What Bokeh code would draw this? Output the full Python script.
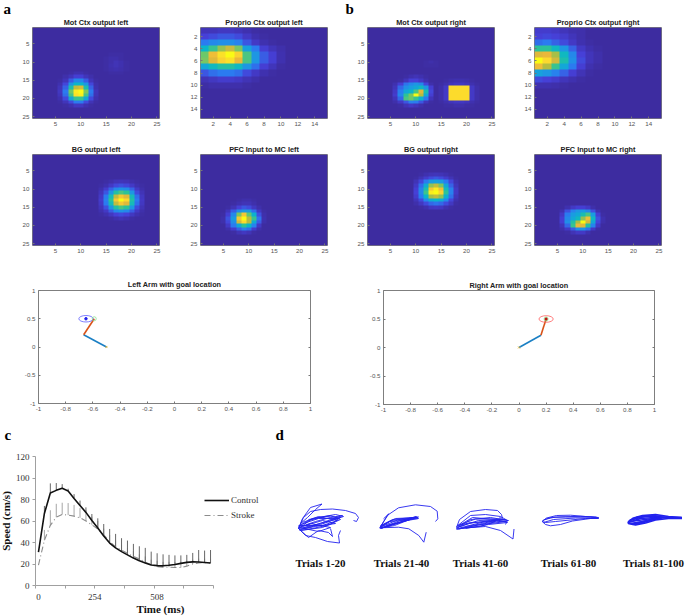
import numpy as np
from bokeh.core.properties import value
from bokeh.embed import file_html
from bokeh.layouts import column
from bokeh.models import (FixedTicker, Legend, LegendItem, LinearAxis, LinearColorMapper,
                          Range1d)
from bokeh.plotting import figure
from bokeh.resources import INLINE

# ---------- heat map values (percent of colour scale) ----------
# each entry: first row, first column, block of values (everything else is 0)
MOT_LEFT = [
    (8, 15, [[0, 1, 1, 1, 0], [1, 2, 2, 1, 0], [1, 2, 4, 3, 1], [1, 3, 4, 3, 1], [1, 2, 3, 2, 1], [0, 1, 1, 1, 0]]),
    (13, 6, [[0, 0, 1, 3, 3, 1, 0, 0],
             [0, 2, 5, 9, 9, 5, 2, 0],
             [1, 5, 15, 24, 24, 15, 5, 1],
             [3, 11, 28, 40, 40, 28, 11, 2],
             [5, 16, 46, 72, 76, 46, 16, 3],
             [6, 20, 60, 95, 100, 62, 20, 5],
             [5, 18, 54, 92, 96, 54, 18, 4],
             [3, 12, 34, 52, 52, 34, 12, 3],
             [1, 5, 12, 20, 20, 12, 4, 1],
             [0, 1, 3, 6, 6, 3, 1, 0]]),
]
PROPRIO_LEFT = [
    (1, 1, [[5, 5, 6, 6, 5, 3, 1, 0, 0, 0],
            [10, 12, 14, 14, 12, 7, 3, 1, 0, 0],
            [20, 24, 26, 26, 22, 14, 7, 3, 1, 0],
            [40, 52, 66, 74, 62, 32, 20, 9, 5, 2],
            [60, 82, 92, 100, 88, 55, 28, 15, 9, 3],
            [62, 78, 88, 92, 80, 55, 28, 15, 9, 3],
            [34, 42, 48, 48, 42, 28, 18, 9, 5, 1],
            [14, 18, 20, 20, 18, 12, 7, 3, 1, 0],
            [4, 6, 8, 8, 7, 4, 2, 0, 0, 0],
            [1, 2, 2, 2, 2, 1, 0, 0, 0, 0]]),
]
BG_LEFT = [
    (8, 14, [[0, 1, 2, 4, 5, 4, 2, 1, 0],
             [1, 3, 7, 11, 13, 11, 7, 3, 1],
             [3, 8, 16, 24, 27, 25, 16, 7, 2],
             [5, 14, 28, 48, 55, 50, 28, 12, 4],
             [7, 20, 44, 72, 85, 78, 44, 18, 6],
             [8, 22, 50, 85, 100, 90, 48, 20, 7],
             [7, 20, 44, 72, 85, 78, 44, 18, 6],
             [5, 13, 28, 48, 55, 50, 28, 12, 4],
             [3, 7, 15, 24, 27, 24, 15, 7, 2],
             [1, 3, 6, 10, 12, 10, 6, 3, 1],
             [0, 0, 1, 3, 4, 3, 1, 0, 0]]),
]
PFC_LEFT = [
    (13, 5, [[0, 0, 0, 1, 2, 2, 1, 0, 0],
             [0, 0, 1, 3, 4, 4, 2, 0, 0],
             [0, 1, 4, 10, 14, 12, 6, 2, 0],
             [0, 5, 15, 25, 30, 30, 18, 6, 1],
             [1, 9, 24, 62, 85, 58, 38, 13, 2],
             [2, 13, 30, 85, 100, 70, 52, 19, 3],
             [2, 11, 26, 75, 90, 70, 36, 15, 2],
             [0, 7, 20, 35, 50, 40, 22, 7, 0],
             [0, 2, 8, 16, 22, 18, 8, 2, 0],
             [0, 0, 1, 4, 6, 4, 1, 0, 0]]),
]
MOT_RIGHT = [
    (10, 11, [[0, 1, 2, 1], [0, 1, 1, 1]]),
    (14, 6, [[0, 0, 1, 3, 4, 3, 1, 0],
             [0, 1, 5, 10, 10, 7, 3, 0],
             [3, 9, 19, 24, 28, 24, 11, 2],
             [5, 17, 26, 30, 34, 42, 28, 9],
             [7, 21, 34, 40, 55, 78, 45, 11],
             [8, 24, 50, 62, 100, 70, 35, 9],
             [5, 17, 55, 60, 52, 38, 20, 5],
             [2, 7, 14, 22, 20, 14, 5, 1],
             [0, 1, 4, 7, 5, 2, 0, 0]]),
    (15, 15, [[0, 1, 2, 3, 3, 2, 1, 0],
              [1, 3, 5, 6, 6, 5, 3, 1],
              [2, 7, 91, 91, 91, 91, 7, 2],
              [2, 7, 91, 91, 91, 91, 7, 2],
              [2, 7, 91, 91, 91, 91, 7, 2],
              [2, 7, 91, 91, 91, 91, 7, 2],
              [1, 3, 5, 6, 6, 5, 3, 1],
              [0, 1, 1, 2, 2, 1, 1, 0]]),
]
PROPRIO_RIGHT = [
    (1, 1, [[8, 8, 7, 5, 3, 2, 0, 0],
            [10, 11, 10, 8, 5, 2, 0, 0],
            [18, 20, 16, 12, 7, 3, 1, 0],
            [50, 50, 42, 28, 16, 7, 3, 1],
            [78, 80, 68, 42, 24, 10, 5, 2],
            [100, 90, 75, 46, 26, 12, 5, 2],
            [82, 70, 52, 34, 20, 9, 3, 1],
            [32, 28, 22, 16, 9, 4, 1, 0],
            [12, 10, 8, 5, 3, 1, 0, 0],
            [3, 3, 2, 1, 0, 0, 0, 0]]),
]
BG_RIGHT = [
    (6, 10, [[0, 1, 3, 4, 5, 4, 3, 1, 0],
             [1, 4, 8, 12, 14, 12, 8, 4, 1],
             [4, 11, 20, 30, 32, 30, 20, 11, 3],
             [7, 18, 36, 65, 72, 62, 34, 16, 5],
             [9, 23, 46, 85, 95, 82, 44, 22, 7],
             [10, 24, 53, 95, 100, 88, 50, 22, 7],
             [8, 20, 40, 68, 72, 65, 38, 18, 5],
             [5, 12, 24, 36, 40, 36, 24, 11, 3],
             [2, 6, 12, 17, 19, 17, 12, 6, 1],
             [0, 1, 3, 6, 7, 6, 3, 1, 0]]),
]
PFC_RIGHT = [
    (15, 6, [[0, 3, 7, 9, 9, 7, 2, 0, 0],
             [3, 13, 22, 28, 30, 24, 13, 3, 0],
             [7, 20, 30, 34, 45, 55, 30, 9, 1],
             [9, 24, 34, 42, 65, 82, 42, 13, 3],
             [9, 26, 48, 68, 100, 75, 35, 11, 2],
             [5, 17, 52, 80, 78, 48, 23, 7, 0],
             [2, 7, 15, 26, 28, 19, 7, 1, 0],
             [0, 1, 4, 7, 7, 3, 0, 0, 0]]),
]
TICKS_25 = [5, 10, 15, 20, 25]
TICKS_15 = [2, 4, 6, 8, 10, 12, 14]

# ---------- arm panels ----------
ARM_TICKS_X = [-1, -0.8, -0.6, -0.4, -0.2, 0, 0.2, 0.4, 0.6, 0.8, 1]
ARM_LABELS_X = ["-1", "-0.8", "-0.6", "-0.4", "-0.2", "0", "0.2", "0.4", "0.6", "0.8", "1"]
ARM_TICKS_Y = [-1, -0.5, 0, 0.5, 1]
ARM_LABELS_Y = ["-1", "-0.5", "0", "0.5", "1"]
LEFT_UPPER = ([-0.50, -0.668], [0.0, 0.218])
LEFT_FORE = ([-0.668, -0.59], [0.218, 0.50])
LEFT_GOAL = (-0.651, 0.50)
RIGHT_UPPER = ([0.0, 0.162], [0.0, 0.216])
RIGHT_FORE = ([0.162, 0.20], [0.216, 0.50])
RIGHT_GOAL = (0.20, 0.50)

# ---------- speed profile ----------
SAMPLE_MS = 25.4
SPEED_CONTROL = [31, 67, 86, 88.5, 90.5, 88, 81, 74.5, 68, 60.5, 53.5, 46, 39.5, 35, 31.5, 28.5, 25.5, 23,
                 21, 19, 18.5, 18.3, 18.8, 19.5, 20.6, 21.5, 22, 21.8, 21.4, 21]
SPEED_STROKE = [19, 42, 56, 63.5, 66, 65.5, 64.5, 63, 60, 56.5, 52.5, 47, 41, 36, 33, 30, 27, 24.7,
                21.6, 19.5, 17.6, 17, 17, 16.7, 16.7, 18, 20, 21, 21.2, 21]
TOP_CONTROL = [31, 74, 95, 95.3, 94.3, 90, 85, 79, 72.7, 66.5, 62.5, 57.2, 52.6, 48, 44, 41.8, 38.7, 36.5,
               35, 31.5, 30, 29, 28.5, 28, 28, 28.5, 30.3, 33, 32.5, 33]
TOP_STROKE = [19, 51.7, 70, 76, 77, 76.7, 75, 72, 70, 64, 60, 53, 47, 42, 38, 35, 32, 29,
              27, 24, 23, 22, 22, 22, 22, 23, 24, 25, 25, 25]
SPEED_TICKS = [0, 20, 40, 60, 80, 100, 120]
TIME_LABELS = {0: "0", 241: "254", 507: "508"}

# ---------- reach trajectories (page pixels) ----------
TRIALS_1_20 = [
    [(298, 528), (303, 517), (310, 511), (320, 509), (332, 508.5), (345, 510), (355, 513), (358, 517), (356, 521), (353, 520)],
    [(298, 528), (302, 518), (310, 507), (321.5, 503.5), (315, 509), (307, 517), (300, 523)],
    [(298, 528), (305, 535), (315, 537), (327, 541), (339, 542.5), (338, 535), (340, 530)],
    [(298, 528), (308, 537), (318, 530), (328, 532), (332, 536), (330, 528)],
    [(298, 527), (315, 521), (330, 517), (342, 515), (325, 521), (310, 526), (298, 528)],
    [(298, 528), (312, 518), (335, 514), (343, 516), (320, 524), (300, 529)],
    [(299, 529), (315, 526), (335, 523), (322, 520), (305, 525)],
    [(298, 526), (308, 520), (325, 516), (340, 517), (330, 524), (312, 528), (299, 530)],
    [(299, 527), (318, 531), (330, 527), (310, 523), (300, 527)],
    [(300, 524), (318, 518), (338, 518), (320, 523), (303, 527)],
    [(298, 525), (322, 525), (337, 520), (318, 516), (302, 522)],
    [(300, 530), (322, 527), (340, 519), (330, 515), (308, 519)],
]
TRIALS_21_40 = [
    [(379.3, 527.7), (386.7, 515), (398, 507.3), (415, 504.3), (430, 506), (436.7, 510.7), (437.3, 518.3), (435, 521)],
    [(379.3, 527), (388.3, 513.3), (383, 518.3)],
    [(379.3, 527.3), (398, 526.7), (408.3, 528.3), (418.3, 535), (423.3, 541.7), (425.7, 531.7)],
    [(380, 527), (392, 519), (418, 516.5), (398, 522.5), (380, 528)],
    [(380, 526), (395, 518), (417, 517), (410, 519), (392, 524), (380, 528)],
    [(381, 527), (400, 520), (416, 516), (402, 521), (385, 526)],
    [(380, 525), (389, 521), (408, 519.5), (394, 525), (380, 527.5)],
    [(380, 526.5), (397, 519.5), (418, 518), (404, 520.5), (386, 525)],
    [(381, 525), (390, 520), (412, 517.5), (396, 523), (381, 527.5)],
]
TRIALS_41_60 = [
    [(456, 527), (459, 519), (470, 511), (485, 509), (497, 510), (501, 514), (502, 518), (499, 517)],
    [(456, 528), (470, 527), (485, 526), (500, 530), (512.5, 538.5), (513.5, 528.5)],
    [(456, 526), (470, 515), (485, 514), (500, 516), (507, 520), (505, 524)],
    [(456, 528), (470, 519), (490, 517), (508, 520), (490, 522), (470, 526), (456, 529)],
    [(457, 526), (472, 517), (495, 519), (507, 522), (488, 524), (465, 528)],
    [(457, 527), (478, 520), (505, 519), (485, 521), (465, 526)],
    [(458, 525), (470, 522), (495, 521), (480, 526), (458, 528)],
    [(457, 525), (475, 518.5), (500, 518.5), (482, 523), (460, 527)],
    [(456, 527), (468, 523), (490, 520), (506, 521), (478, 524.5), (458, 528.5)],
]
TRIALS_61_80 = [
    [(541.7, 521), (546, 517.5), (556, 515), (570, 514.7), (585, 516), (598.3, 517)],
    [(598.3, 518), (585, 518), (570, 519.5), (555, 521), (545, 522), (541.7, 521)],
    [(541.7, 521), (545, 524), (550, 525.3), (560, 524), (572, 520.5), (590, 518), (598, 517.5)],
    [(542, 520), (550, 517), (565, 516.5), (590, 516.5), (598, 517.5)],
    [(543, 522), (553, 519), (575, 517.5), (597, 517.5)],
    [(544, 519), (555, 516.5), (580, 515.8), (596, 516.5)],
]
TRIALS_81_100 = [
    [(627.5, 521.5), (633, 517.5), (642, 515), (655, 514), (668, 516), (681.5, 517)],
    [(681.5, 518), (668, 518), (655, 519.5), (645, 522.5), (635, 524.3), (628, 523), (627.5, 521.5)],
    [(628, 522), (640, 518), (660, 516.5), (681, 517)],
    [(630, 523.5), (645, 520.5), (662, 517.5), (681, 517.5)],
    [(629, 520), (640, 516.5), (652, 515.5), (668, 517)],
    [(632, 524), (645, 521.5), (655, 518)],
    [(630, 521), (648, 518.5), (660, 517.5)],
    [(628, 523), (640, 522), (650, 519)],
    [(630, 519.5), (644, 516), (656, 515.5)],
    [(634, 522.5), (648, 520), (658, 517)],
    [(636, 516.5), (648, 515.5), (660, 515.5)],
]
TRIAL_GROUPS = [TRIALS_1_20, TRIALS_21_40, TRIALS_41_60, TRIALS_61_80, TRIALS_81_100]
TRIAL_LABELS = ["Trials 1-20", "Trials 21-40", "Trials 41-60", "Trials 61-80", "Trials 81-100"]
TRIAL_LABEL_X = [320, 401, 480, 568, 653]

# ---------- styling ----------
PARULA = ["#3d2ca0", "#4640d8", "#2b7bf0", "#1a9de0", "#0ab6c9", "#2ac29a",
          "#6cc86a", "#b4bd40", "#eab83a", "#fcd82f", "#f9fb15"]
def _ramp(anchors, n=256):
    rgb = np.array([[int(c[i:i + 2], 16) for i in (1, 3, 5)] for c in anchors], float)
    pos = np.linspace(0, 1, len(anchors))
    t = np.linspace(0, 1, n)
    return ["#%02x%02x%02x" % tuple(int(round(np.interp(v, pos, rgb[:, k]))) for k in range(3)) for v in t]
MAPPER = LinearColorMapper(palette=_ramp(PARULA), low=0, high=100)
SANS = "Liberation Sans"
SERIF = "Liberation Serif"
PAD_L, PAD_R, PAD_T, PAD_B = 34, 14, 20, 16


def place(p, left, top):
    p.styles = {"position": "absolute", "left": f"{left}px", "top": f"{top}px"}
    p.frame_align = False
    return p


def matlab_fig(title, left, top, w, h, xr, yr, title_gap=1):
    p = figure(width=w + PAD_L + PAD_R, height=h + PAD_T + PAD_B, frame_width=w, frame_height=h,
               x_range=Range1d(*xr), y_range=Range1d(*yr), output_backend="svg", toolbar_location=None,
               min_border_left=PAD_L, min_border_right=PAD_R, min_border_top=PAD_T, min_border_bottom=PAD_B,
               title=title, background_fill_color="#ffffff", border_fill_color=None)
    p.title.align = "center"
    p.title.text_font = SANS
    p.title.text_font_size = "7.3px"
    p.title.text_font_style = "bold"
    p.title.text_color = "#222222"
    p.title.standoff = title_gap
    p.title.offset = 0
    p.grid.visible = False
    p.outline_line_color = "#7f7f7f"
    p.outline_line_width = 1
    for ax in p.axis:
        ax.axis_line_color = None
        ax.major_tick_line_color = "#777777"
        ax.major_tick_in = 2
        ax.major_tick_out = 0
        ax.minor_tick_line_color = None
        ax.major_label_text_font = SANS
        ax.major_label_text_font_size = "6.2px"
        ax.major_label_text_color = "#555555"
        ax.major_label_standoff = 3
    place(p, left - PAD_L, top - PAD_T)
    return p


def heat(title, blocks, left, top, n, ticks):
    p = matlab_fig(title, left, top, 127, 91, (0.5, n + 0.5), (n + 0.5, 0.5))
    grid = np.zeros((n, n))
    for r0, c0, block in blocks:
        for i, row in enumerate(block):
            for j, v in enumerate(row):
                grid[r0 - 1 + i, c0 - 1 + j] = max(grid[r0 - 1 + i, c0 - 1 + j], v)
    p.image(image=[grid], x=0.5, y=0.5, dw=n, dh=n, color_mapper=MAPPER)
    p.xaxis.ticker = FixedTicker(ticks=ticks)
    p.yaxis.ticker = FixedTicker(ticks=ticks)
    return p


def arm(title, left, top, w, h, upper, fore, goal, goal_color, dot_color, title_gap):
    p = matlab_fig(title, left, top, w, h, (-1, 1), (-1, 1), title_gap)
    p.xaxis.ticker = FixedTicker(ticks=ARM_TICKS_X)
    p.xaxis.major_label_overrides = dict(zip(ARM_TICKS_X, ARM_LABELS_X))
    p.yaxis.ticker = FixedTicker(ticks=ARM_TICKS_Y)
    p.yaxis.major_label_overrides = dict(zip(ARM_TICKS_Y, ARM_LABELS_Y))
    for side, ticks in (("right", ARM_TICKS_Y),):
        extra = LinearAxis(ticker=FixedTicker(ticks=ticks), axis_line_color=None, major_tick_in=2, major_tick_out=0,
                           major_tick_line_color="#777777", minor_tick_line_color=None,
                           major_label_overrides={t: "" for t in ticks}, major_label_standoff=0)
        p.add_layout(extra, side)
    p.line(*upper, line_color="#1a7fc4", line_width=1.6)
    p.line(*fore, line_color="#d95319", line_width=1.6)
    p.ellipse([goal[0]], [goal[1]], width=0.105, height=0.115, fill_color=None, line_color=goal_color, line_width=0.8)
    p.scatter([goal[0]], [goal[1]], marker="circle", size=2.5, fill_color=dot_color, line_color=dot_color)
    p.scatter([fore[0][1]], [fore[1][1]], marker="circle", size=4, fill_color=None, line_color="#7fe07f", line_width=0.7)
    p.scatter([upper[0][0]], [upper[1][0]], marker="x", size=3, line_color="#edb120", line_width=0.7)
    return p


# ---------- page-wide layer: panel letters and trajectories ----------
page = figure(width=685, height=616, x_range=Range1d(0, 685), y_range=Range1d(616, 0), x_axis_type=None,
              y_axis_type=None, min_border=0, output_backend="svg", toolbar_location=None,
              background_fill_color=None, border_fill_color=None, outline_line_color=None)
page.grid.visible = False
place(page, 0, 0)
for letter, x, y in [("a", 3, 8), ("b", 345, 8), ("c", 4, 434), ("d", 275, 434)]:
    page.text([x], [y], text=[letter], text_font=value(SERIF), text_font_size="15px", text_font_style="bold",
              text_color="#000000", text_baseline="middle", text_align="left")
for k, group in enumerate(TRIAL_GROUPS):
    page.multi_line([[pt[0] for pt in ln] for ln in group], [[pt[1] for pt in ln] for ln in group],
                    line_color="#2222ee", line_width=1.7 if k == 4 else 0.9)
page.text(TRIAL_LABEL_X, [562] * 5, text=TRIAL_LABELS, text_font=value(SERIF), text_font_size="11px",
          text_font_style="bold", text_color="#111111", text_align="center", text_baseline="middle")

# ---------- panel c ----------
L, T, W, H = 35, 456, 250, 129
MS_PER_PX = 762.0 / 178
B_L = 50
c = figure(width=W + B_L + 10, height=H + 12 + 31, frame_width=W, frame_height=H,
           x_range=Range1d(-12.7, -12.7 + W * MS_PER_PX), y_range=Range1d(0, 120),
           output_backend="svg", toolbar_location=None,
           min_border_left=B_L, min_border_right=10, min_border_top=12, min_border_bottom=31,
           background_fill_color=None, border_fill_color=None, outline_line_color=None)
place(c, L - B_L, T - 12)
c.grid.visible = False
t = [k * SAMPLE_MS for k in range(len(SPEED_CONTROL))]
c.segment(t, SPEED_STROKE, t, TOP_STROKE, line_color="#a6a6a6", line_width=1)
c.segment(t, SPEED_CONTROL, t, TOP_CONTROL, line_color="#666666", line_width=1)
r_stroke = c.line(t, SPEED_STROKE, line_color="#8c8c8c", line_width=1.1, line_dash="6 3 1 3")
r_control = c.line(t, SPEED_CONTROL, line_color="#111111", line_width=1.6)
legend = Legend(items=[LegendItem(label="Control", renderers=[r_control]), LegendItem(label="Stroke", renderers=[r_stroke])],
                location=(169, 65), background_fill_color=None, border_line_color=None, glyph_width=25, glyph_height=10,
                label_text_font=SERIF, label_text_font_size="9px", label_text_color="#333333", spacing=5,
                padding=0, margin=0, label_standoff=2)
c.add_layout(legend, "center")
c.xaxis.ticker = FixedTicker(ticks=list(TIME_LABELS), minor_ticks=[-12.7 + 127 * k for k in range(7)])
c.xaxis.major_label_overrides = {k: v for k, v in TIME_LABELS.items()}
c.xaxis.bounds = (-12.7, 749.3)
c.xaxis.major_tick_line_color = None
c.xaxis.minor_tick_line_color = "#a0a0a0"
c.xaxis.minor_tick_in = 0
c.xaxis.minor_tick_out = 3
c.xaxis.axis_line_color = "#a0a0a0"
c.xaxis.axis_label = "Time (ms)"
c.yaxis.ticker = FixedTicker(ticks=SPEED_TICKS)
c.yaxis.major_tick_line_color = "#a0a0a0"
c.yaxis.major_tick_in = 0
c.yaxis.major_tick_out = 3
c.yaxis.minor_tick_line_color = None
c.yaxis.axis_line_color = "#a0a0a0"
c.yaxis.axis_label = "Speed (cm/s)"
for ax in c.axis:
    ax.major_label_text_font = SERIF
    ax.major_label_text_font_size = "9px"
    ax.major_label_text_color = "#333333"
    ax.axis_label_text_font = SERIF
    ax.axis_label_text_font_size = "11px"
    ax.axis_label_text_font_style = "bold"
    ax.axis_label_text_color = "#111111"
c.xaxis.major_label_standoff = 2
c.xaxis.axis_label_standoff = 0
c.yaxis.major_label_standoff = 3
c.yaxis.axis_label_standoff = 1

children = [
    page,
    heat("Mot Ctx output left", MOT_LEFT, 32, 27, 25, TICKS_25),
    heat("Proprio Ctx output left", PROPRIO_LEFT, 200, 27, 15, TICKS_15),
    heat("BG output left", BG_LEFT, 32, 154, 25, TICKS_25),
    heat("PFC Input to MC left", PFC_LEFT, 200, 154, 25, TICKS_25),
    heat("Mot Ctx output right", MOT_RIGHT, 367, 27, 25, TICKS_25),
    heat("Proprio Ctx output right", PROPRIO_RIGHT, 534, 27, 15, TICKS_15),
    heat("BG output right", BG_RIGHT, 367, 154, 25, TICKS_25),
    heat("PFC Input to MC right", PFC_RIGHT, 534, 154, 25, TICKS_25),
    arm("Left Arm with goal location", 38, 290, 272, 113, LEFT_UPPER, LEFT_FORE, LEFT_GOAL, "#6060ff", "#2222ee", 4),
    arm("Right Arm with goal location", 383, 290, 271, 114, RIGHT_UPPER, RIGHT_FORE, RIGHT_GOAL, "#ff6060", "#c01010", 2),
    c,
]
root = column(*children, width=685, height=616, styles={"position": "absolute", "left": "0px", "top": "0px"})
open("out.html", "w").write(file_html(root, INLINE))
